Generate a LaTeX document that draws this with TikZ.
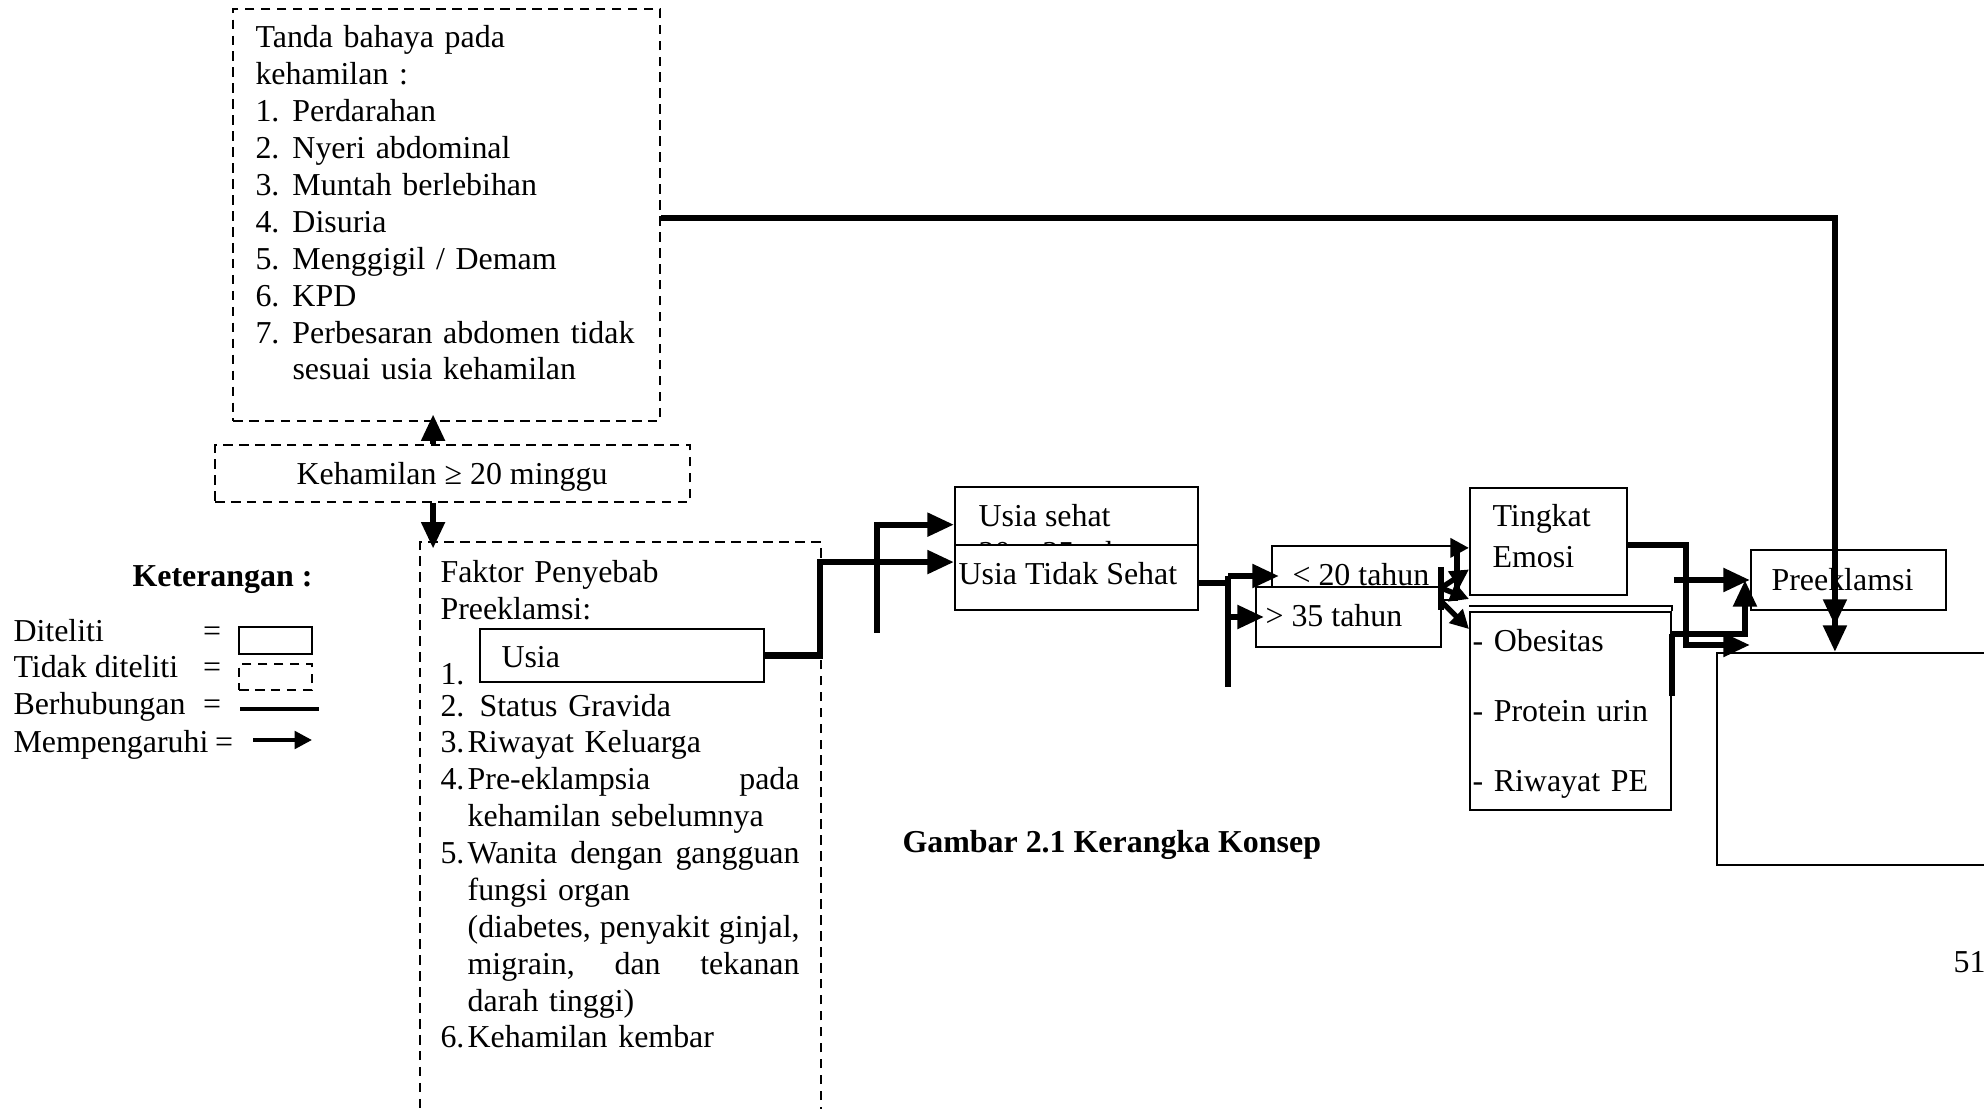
\documentclass[tikz,border=0pt]{standalone}
\usepackage{fontspec}
\setmainfont{Liberation Serif}
\usepackage{tikz}
\usetikzlibrary{fit}
\usetikzlibrary{arrows.meta}

\newcommand{\nomor}[1]{\makebox[13.9pt][l]{#1}}
\newcommand{\gantung}[1]{\makebox[10.2pt][l]{#1}}
\newcommand{\rata}[1]{\makebox[124.8pt][l]{#1}}

\tikzstyle{teks} = [
	font=\fontsize{12}{13.87}\selectfont,
	inner sep=0pt
]
\tikzstyle{diteliti} = [
	draw=black,
	line width=0.75pt,
	fill=white,
	inner sep=0pt
]
\tikzstyle{tidakditeliti} = [
	draw=black,
	line width=1pt,
	dash pattern=on 3.6pt off 2.4pt,
	inner sep=0pt
]
\tikzstyle{hubung} = [
	line width=2.3pt
]
\tikzstyle{pengaruh} = [
	line width=2.3pt,
	-{Triangle[length=10pt,width=8.5pt]}
]
\tikzstyle{pengaruhkecil} = [
	line width=2pt,
	-{Triangle[length=7pt,width=7pt]}
]

\begin{document}
\begin{tikzpicture}[x=0.376pt, y=-0.376pt]
	\useasboundingbox (0,0) rectangle (1984,1109);

	%
	% Keterangan
	\node[teks, font=\fontsize{12}{13.87}\selectfont\bfseries, anchor=base west] (keterangan) at (132,587) {Keterangan :};
	\node[teks, anchor=base west] (ketditeliti) at (13,642) {Diteliti};
	\node[teks, anchor=base west] (kettidak) at (13,678) {Tidak diteliti};
	\node[teks, anchor=base west] (kethubung) at (13,715) {Berhubungan};
	\node[teks, anchor=base west] (ketpengaruh) at (13,752) {Mempengaruhi};
	\node[teks, anchor=base] (sama1) at (212,642) {=};
	\node[teks, anchor=base] (sama2) at (212,678) {=};
	\node[teks, anchor=base] (sama3) at (212,715) {=};
	\node[teks, anchor=base] (sama4) at (224,752) {=};
	\node[diteliti, fit={(239,627) (312,654)}] (contohditeliti) {};
	\node[tidakditeliti, fit={(239,664) (312,690)}] (contohtidak) {};
	\coordinate (hubungA) at (240,709);
	\coordinate (hubungB) at (319,709);
	\draw[line width=1.5pt] (hubungA) -- (hubungB);
	\coordinate (pengaruhA) at (253,740);
	\coordinate (pengaruhB) at (312,740);
	\draw[line width=1.5pt, -{Triangle[length=6.5pt,width=6.5pt]}] (pengaruhA) -- (pengaruhB);

	%
	% Tanda bahaya
	\node[tidakditeliti, fit={(233,9) (660,421)}] (tanda) {};
	\node[teks, text width=150pt, anchor=base west] (tandaisi) at (255,48) {Tanda bahaya pada\\
		kehamilan :\\
		\nomor{1.}Perdarahan\\
		\nomor{2.}Nyeri abdominal\\
		\nomor{3.}Muntah berlebihan\\
		\nomor{4.}Disuria\\
		\nomor{5.}Menggigil / Demam\\
		\nomor{6.}KPD\\
		\nomor{7.}Perbesaran abdomen tidak\\
		\nomor{}sesuai usia kehamilan};

	%
	% Kehamilan
	\node[tidakditeliti, fit={(215,445) (690,502)}] (kehamilan) {};
	\node[teks, anchor=base] (kehamilanisi) at (452,485) {Kehamilan ≥ 20 minggu};

	%
	% Faktor penyebab
	\node[tidakditeliti, fit={(420,542) (821,1130)}] (faktor) {};
	\node[teks, text width=135pt, anchor=base west] (faktorjudul) at (440,583) {Faktor Penyebab\\Preeklamsi:};
	\node[teks, anchor=base west] (nomorsatu) at (440,685) {1.};
	\node[diteliti, fit={(480,629) (764,682)}] (usia) {};
	\node[teks, anchor=base west] (usiaisi) at (501,668) {Usia};
	\node[teks, text width=135pt, anchor=base west] (faktorisi) at (440,716) {\makebox[14.7pt][l]{2.}Status Gravida\\
		\gantung{3.}Riwayat Keluarga\\
		\gantung{4.}\rata{Pre-eklampsia\hfill pada}\\
		\gantung{}kehamilan sebelumnya\\
		\gantung{5.}\rata{Wanita\hfill dengan\hfill gangguan}\\
		\gantung{}fungsi organ\\
		\gantung{}\rata{(diabetes,\hfill penyakit\hfill ginjal,}\\
		\gantung{}\rata{migrain,\hfill dan\hfill tekanan}\\
		\gantung{}darah tinggi)\\
		\gantung{6.}Kehamilan kembar};

	%
	% Usia sehat / tidak sehat
	\node[diteliti, fit={(955,487) (1198,545)}] (sehat) {};
	\node[teks, anchor=base west] (sehatisi) at (978,527) {Usia sehat};
	\node[teks, anchor=base west] (sehatrentang) at (978,564) {20 – 35 tahun};
	\node[diteliti, fit={(955,545) (1198,610)}] (tidaksehat) {};
	\node[teks, anchor=base west] (tidaksehatisi) at (958,585) {Usia Tidak Sehat};

	%
	% Umur
	\node[diteliti, fit={(1272,546) (1457,600)}] (kurang20) {};
	\node[teks, anchor=base west] (kurang20isi) at (1292,586) {< 20 tahun};
	\node[diteliti, fit={(1256,587) (1441,647)}] (lebih35) {};
	\node[teks, anchor=base west] (lebih35isi) at (1265,627) {> 35 tahun};

	%
	% Tingkat emosi dan faktor lain
	\node[diteliti, fit={(1470,488) (1627,595)}] (tingkat) {};
	\node[teks, font=\fontsize{12}{15.4}\selectfont, text width=50pt, anchor=base west] (tingkatisi) at (1492,527) {Tingkat\\Emosi};
	\node[diteliti, fit={(1470,612) (1671,810)}] (obesitas) {};
	\draw[line width=0.75pt] ([yshift=1.9pt]obesitas.north west) -- ([yshift=1.9pt]obesitas.north east) -- (obesitas.north east);
	\node[teks, font=\fontsize{12}{26.3}\selectfont, text width=70pt, anchor=base west] (obesitasisi) at (1472,652) {- Obesitas\\- Protein urin\\- Riwayat PE};

	%
	% Preeklamsi
	\node[diteliti, fit={(1751,550) (1946,610)}] (preeklamsi) {};
	\node[teks, anchor=base west] (preeklamsiisi) at (1771,591) {Preeklamsi};
	\node[diteliti, fit={(1717,653) (2010,865)}] (kotakbesar) {};

	%
	% Judul gambar dan halaman
	\node[teks, font=\fontsize{12}{13.87}\selectfont\bfseries, anchor=base west] (judul) at (902,852) {Gambar 2.1 Kerangka Konsep};
	\node[teks, anchor=base west] (halaman) at (1953,972) {51};

	%
	% Arrows

	% Kehamilan ke atas dan ke bawah
	\draw[pengaruh, shorten >=-3pt] ([xshift=-7.3pt]kehamilan.north) -- ([xshift=-7.3pt]kehamilan.north |- tanda.south);
	\draw[pengaruh, shorten >=-3pt] ([xshift=-7.3pt]kehamilan.south) -- ([xshift=-7.3pt]kehamilan.south |- faktor.north);

	% Tanda bahaya ke preeklamsi
	\draw[pengaruh] ([yshift=-1.1pt]tanda.east) -| ([xshift=-5.1pt, yshift=-5.6pt]preeklamsi.south);
	\draw[pengaruh] ([xshift=-5.1pt]preeklamsi.south) -- ([xshift=-5.1pt]preeklamsi.south |- kotakbesar.north);

	% Usia ke usia sehat / tidak sehat
	\coordinate (atasA) at (877,522);
	\coordinate (bawahA) at (877,633);
	\draw[hubung] (atasA) -- (bawahA);
	\draw[pengaruh] (usia.east) -| ([xshift=-50.4pt, yshift=5.8pt]tidaksehat.west) -- ([yshift=5.8pt]tidaksehat.west);
	\draw[pengaruh] ([yshift=-1pt]atasA) -- ([yshift=-1pt]atasA -| sehat.west);

	% Usia tidak sehat ke umur
	\coordinate (atasB) at (1228,576);
	\coordinate (bawahB) at (1228,687);
	\draw[hubung] (atasB) -- (bawahB);
	\draw[hubung] ([yshift=-2pt]tidaksehat.east) -- ([yshift=-2pt]tidaksehat.east -| atasB);
	\draw[pengaruh, shorten >=-3pt] (atasB) -- (atasB -| kurang20.west);
	\draw[pengaruh, shorten >=-3.4pt] (atasB |- lebih35.west) -- (lebih35.west);

	% Umur ke tingkat emosi dan obesitas
	\coordinate (palangatas) at (1441,567);
	\coordinate (palangbawah) at (1441,610);
	\coordinate (simpulC) at (1441,588);
	\coordinate (naikC) at (1457,595);
	\draw[hubung] (palangatas) -- (palangbawah);
	\draw[pengaruhkecil] (naikC) |- ([yshift=-2.4pt]tingkat.west);
	\draw[pengaruhkecil] (simpulC) -- ([yshift=10pt]tingkat.south west);
	\draw[pengaruhkecil] (simpulC) -- ([yshift=4.5pt]obesitas.north west);
	\draw[pengaruhkecil] ([yshift=-5pt]simpulC) -- ([yshift=-6.8pt]obesitas.north west);

	% Tingkat emosi ke preeklamsi
	\coordinate (belokD) at (1686,645);
	\draw[pengaruh] ([yshift=-1.3pt]tingkat.east) -| (belokD) -- (belokD -| preeklamsi.west);
	\draw[pengaruh] ([xshift=-28.6pt]preeklamsi.west) -- (preeklamsi.west);

	% Obesitas ke preeklamsi
	\draw[hubung] ([yshift=-32pt]obesitas.north east) -- ([yshift=-8.6pt]obesitas.north east);
	\draw[pengaruh] ([yshift=-8.6pt]obesitas.north east) -| ([xshift=-1.9pt]preeklamsi.west);

\end{tikzpicture}
\end{document}
